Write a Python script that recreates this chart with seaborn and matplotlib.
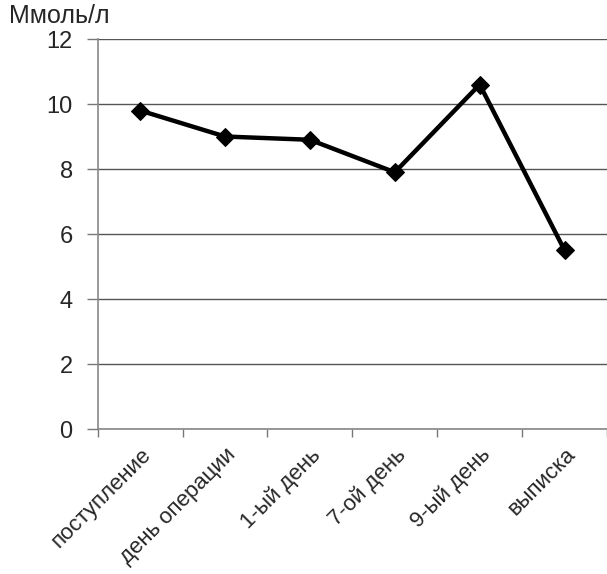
import matplotlib
matplotlib.use("Agg")
import matplotlib.pyplot as plt
import seaborn as sns
import pandas as pd

stages = ["поступление", "день операции", "1-ый день", "7-ой день", "9-ый день", "выписка"]
glucose = [9.8, 9.0, 8.9, 7.9, 10.6, 5.5]
y_ticks = [0, 2, 4, 6, 8, 10, 12]

sns.set_theme(style="white")
plt.rcParams["font.family"] = ["Liberation Sans", "DejaVu Sans"]

df = pd.DataFrame({"stage": stages, "value": glucose})

fig = plt.figure(figsize=(6.07, 5.74), dpi=100)
ax = fig.add_axes([0.161, 0.2526, 0.839, 0.6794])

sns.lineplot(data=df, x="stage", y="value", sort=False, ax=ax,
             color="black", linewidth=3.2, marker="D", markersize=9,
             markeredgecolor="black", markerfacecolor="black")

ax.set_xlim(-0.5, len(stages) - 0.5)
ax.set_ylim(0, 12)
ax.set_yticks(y_ticks)
ax.set_yticklabels([str(t) for t in y_ticks], fontsize=17)
ax.yaxis.grid(True, color="#555555", linewidth=1.0)
ax.set_axisbelow(True)

# tick marks sit on category boundaries; labels sit at category centres
ax.set_xticks([i - 0.5 for i in range(len(stages) + 1)], minor=False)
ax.set_xticklabels([])
ax.set_xticks(range(len(stages)), minor=True)
ax.set_xticklabels(stages, minor=True, rotation=45, ha="right",
                   rotation_mode="anchor", fontsize=16)
ax.tick_params(axis="x", which="minor", length=0, pad=11)
ax.tick_params(axis="x", which="major", length=6, width=1, color="#777777",
               direction="out", bottom=True)
ax.tick_params(axis="y", length=8, width=1, color="#777777", direction="out",
               left=True, pad=10)

for side in ["top", "right"]:
    ax.spines[side].set_visible(False)
ax.spines["left"].set_color("#888888")
ax.spines["bottom"].set_color("#888888")
ax.spines["left"].set_linewidth(1.2)
ax.spines["bottom"].set_linewidth(1.2)

ax.set_xlabel("")
ax.set_ylabel("")
fig.text(0.015, 0.972, "Ммоль/л", fontsize=18, ha="left", va="center")

fig.savefig("out.png", dpi=100, facecolor="white")
